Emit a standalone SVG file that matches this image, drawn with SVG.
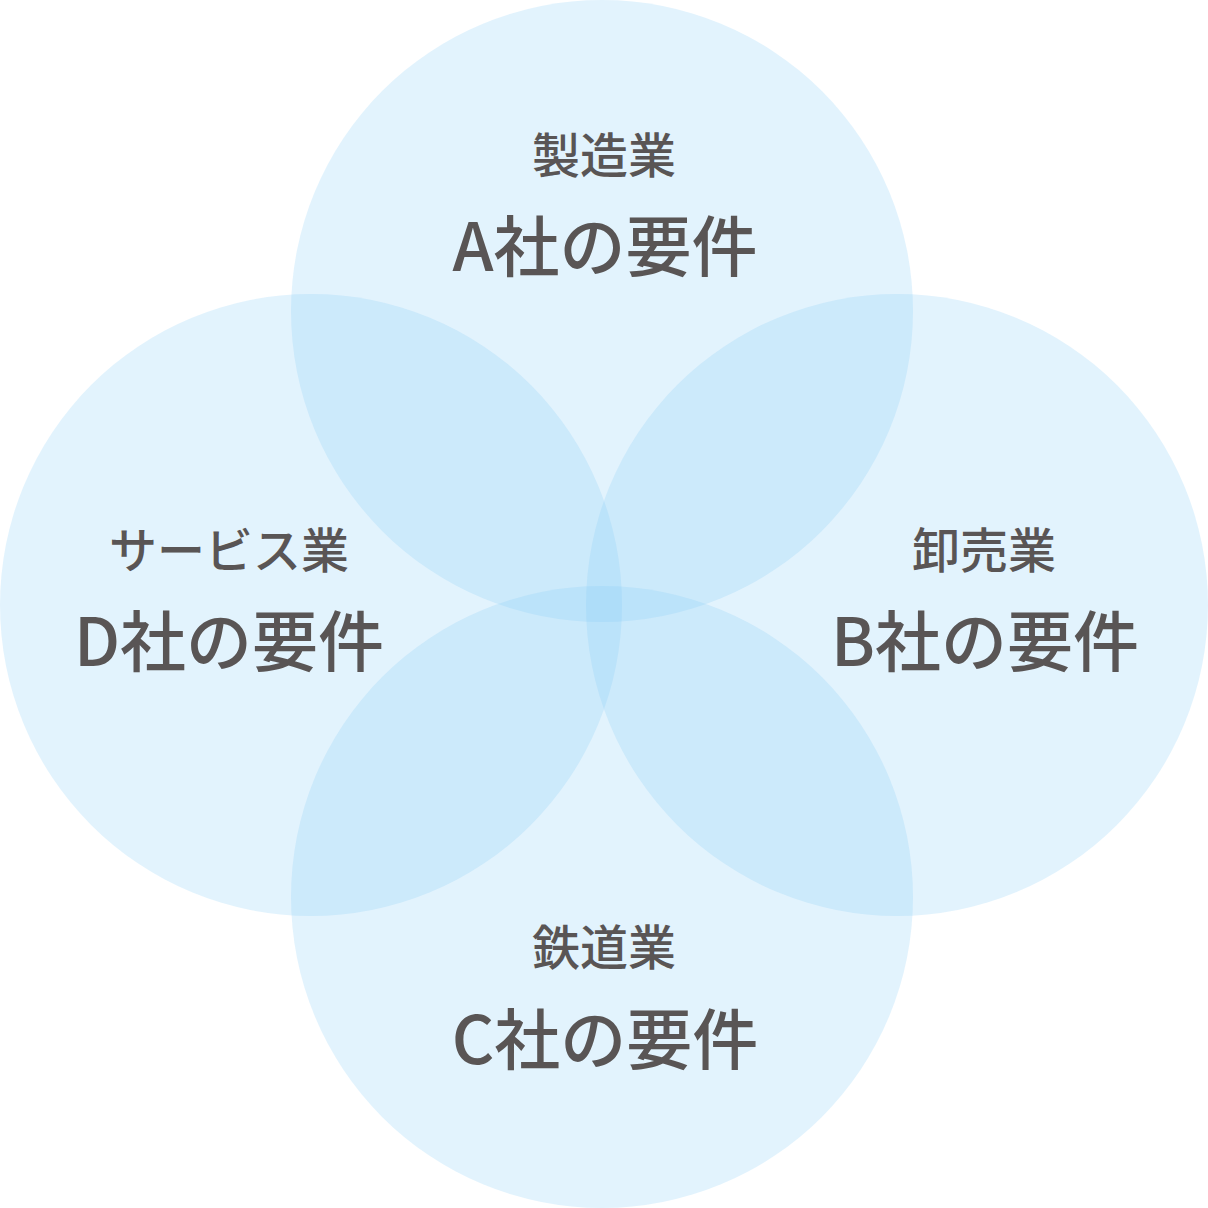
<svg xmlns="http://www.w3.org/2000/svg" width="1208" height="1208" viewBox="0 0 1208 1208">
<style>
.c{fill:#84cdf5;fill-opacity:0.24}
.s{font-family:"Noto Sans CJK JP","Noto Sans",sans-serif;font-size:48px;font-weight:500;fill:#595555;text-anchor:middle}
.l{font-family:"Noto Sans CJK JP","Noto Sans",sans-serif;font-size:66px;font-weight:500;fill:#595555;text-anchor:middle}
</style>
<rect width="1208" height="1208" fill="#ffffff"/>
<g id="nodeA"><circle class="c" cx="602" cy="311" r="311"/></g>
<g id="nodeD"><circle class="c" cx="311" cy="605" r="311"/></g>
<g id="nodeB"><circle class="c" cx="897" cy="605" r="311"/></g>
<g id="nodeC"><circle class="c" cx="602" cy="897" r="311"/></g>
<g id="labels">
<text class="s" x="604" y="173">製造業</text>
<text class="l" x="605" y="271">A社の要件</text>
<text class="s" x="229" y="568">サービス業</text>
<text class="l" x="229" y="666">D社の要件</text>
<text class="s" x="984" y="568">卸売業</text>
<text class="l" x="985" y="666">B社の要件</text>
<text class="s" x="604" y="965">鉄道業</text>
<text class="l" x="605" y="1064">C社の要件</text>
</g>
<g id="connectors"></g>
</svg>
